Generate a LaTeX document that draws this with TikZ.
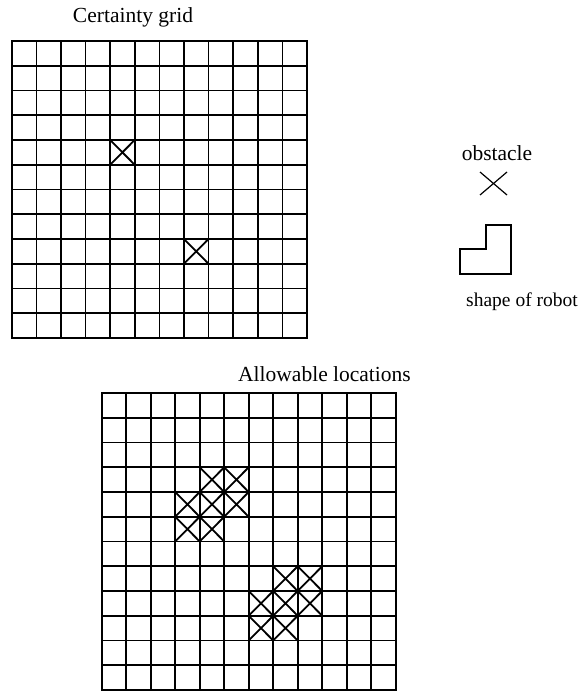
\documentclass[tikz,border=0pt]{standalone}
\usepackage{fontspec}
\setmainfont{Liberation Serif}
\begin{document}
\begin{tikzpicture}[x=1pt, y=-1pt,
  gridline/.style={line width=1.6pt, line cap=rect},
  obst/.style={line width=1.8pt},
  lbl/.style={font=\fontsize{21.5}{24}\selectfont, inner sep=0pt}]
\useasboundingbox (0,0) rectangle (579,692);
% certainty grid
\node[lbl] (certtitle) at (133,17) {Certainty grid};
\begin{scope}[shift={(11.7,41)}, x=24.6pt, y=-24.75pt]
\foreach \i in {0,...,12} {
  \draw[gridline] (\i,0) -- (\i,12);
  \draw[gridline] (0,\i) -- (12,\i);
}
\foreach \c/\r in {4/4, 7/8}
  \draw[obst] (\c,\r) -- ++(1,1) (\c+1,\r) -- ++(-1,1);
\end{scope}
% legend
\node[lbl] (obstlbl) at (497,153) {obstacle};
\draw[line width=1.2pt] (480,172) -- (507,195) (507,172) -- (480,195);
\draw[line width=1.4pt] (486,225) -- (511,225) -- (511,274) -- (460,274) -- (460,249) -- (486,249) -- cycle;
\node[lbl, font=\fontsize{19.5}{22}\selectfont] (robotlbl) at (522,302) {shape of robot};
% allowable locations
\node[lbl] (allowtitle) at (324.5,374) {Allowable locations};
\begin{scope}[shift={(101.7,393)}, x=24.5pt, y=-24.75pt]
\foreach \i in {0,...,12} {
  \draw[gridline] (\i,0) -- (\i,12);
  \draw[gridline] (0,\i) -- (12,\i);
}
\foreach \c/\r in {4/4, 7/8}
  \foreach \dc/\dr in {0/-1, 1/-1, -1/0, 0/0, 1/0, -1/1, 0/1}
    \draw[obst] (\c+\dc,\r+\dr) -- ++(1,1) (\c+\dc+1,\r+\dr) -- ++(-1,1);
\end{scope}
\end{tikzpicture}
\end{document}
